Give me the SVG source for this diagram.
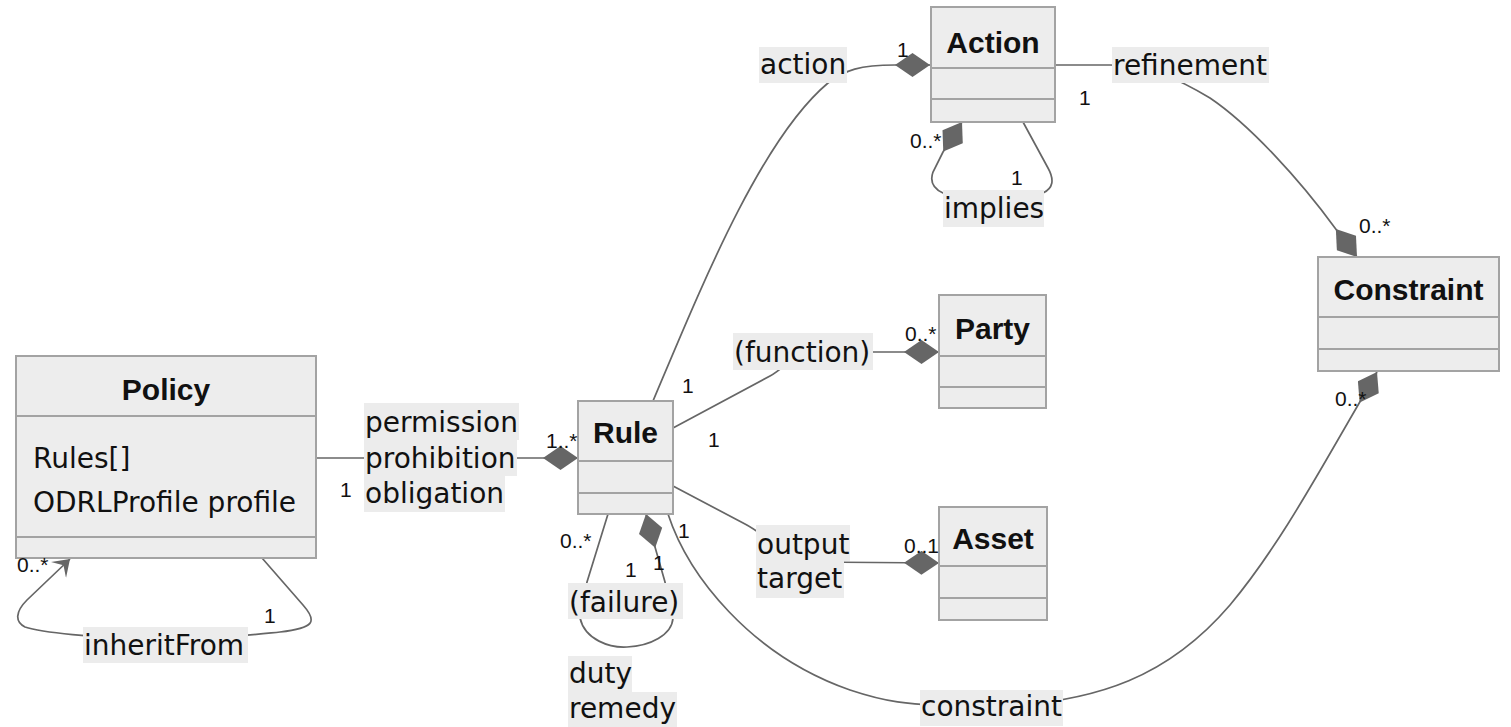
<svg xmlns="http://www.w3.org/2000/svg" width="1511" height="727" viewBox="0 0 1511 727">
  <style>
    .box { fill: #ededed; stroke: #a3a3a3; stroke-width: 2; }
    .div { stroke: #a3a3a3; stroke-width: 2; }
    .title { font-family: "Liberation Sans", Arial, sans-serif; font-weight: bold; font-size: 30px; fill: #111; text-anchor: middle; }
    .attr { font-family: "DejaVu Sans", sans-serif; font-size: 28px; fill: #111; }
    .edge { fill: none; stroke: #666; stroke-width: 1.7; }
    .lbg { fill: #ececec; }
    .lbl { font-family: "DejaVu Sans", sans-serif; font-size: 28px; fill: #111; }
    .mult { font-family: "Liberation Sans", Arial, sans-serif; font-size: 21px; fill: #111; }
  </style>
  <defs>
    <!-- filled composition diamond, tip at the path end -->
    <marker id="composition" markerUnits="userSpaceOnUse" markerWidth="36" markerHeight="26" refX="35" refY="12" orient="auto">
      <path d="M0,12 L17.5,0 L35,12 L17.5,24 Z" fill="#666"/>
    </marker>
    <!-- notched dependency arrowhead -->
    <marker id="dependency" markerUnits="userSpaceOnUse" markerWidth="18" markerHeight="24" refX="16" refY="11" orient="auto">
      <path d="M16,11 L0,0 L7,11 L0,22 Z" fill="#666"/>
    </marker>
  </defs>

  <rect width="1511" height="727" fill="#fff"/>

  <g id="connectors">
    <!-- Policy to Rule -->
    <path class="edge" d="M316,458 L578,458" marker-end="url(#composition)"/>
    <!-- Policy inheritFrom loop -->
    <path class="edge" d="M262,558 L303,605 C318,622 314,628 280,632 C260,634 250,636 166,640 C90,638 40,632 25,627 C15,622 15,612 27,600 L70,559" marker-end="url(#dependency)"/>
    <!-- Rule to Action -->
    <path class="edge" d="M653,401 C700,290 760,140 828,83 C845,70 860,65 895,65 L930,65" marker-end="url(#composition)"/>
    <!-- Action refinement to Constraint -->
    <path class="edge" d="M1055,65 L1110,65 C1150,65 1180,80 1210,98 C1250,125 1300,180 1335,228 L1357,257" marker-end="url(#composition)"/>
    <!-- Action implies loop -->
    <path class="edge" d="M1023,122 L1048,168 Q1058,186 1043,193 L993,205 L943,193 Q928,186 933,172 L943,152 L962,122" marker-end="url(#composition)"/>
    <!-- Rule to Party -->
    <path class="edge" d="M673,428 L770,376 C785,368 795,352 810,352 L939,352" marker-end="url(#composition)"/>
    <!-- Rule to Asset -->
    <path class="edge" d="M673,486 L745,524 C770,537 790,562 810,562 L939,563" marker-end="url(#composition)"/>
    <!-- Rule constraint to Constraint -->
    <path class="edge" d="M668,514 C688,575 750,655 850,690 C880,700 900,706 990,707 C1100,703 1170,675 1230,605 C1280,545 1320,470 1361,400 L1377,372" marker-end="url(#composition)"/>
    <!-- Rule failure loop -->
    <path class="edge" d="M608,514 L587,582 L582,605 L580,618 C585,640 610,648 627,647 C650,646 672,635 673,618 L668,600 L665,582 L655,547 L646,514" marker-end="url(#composition)"/>
  </g>

  <g id="node-policy">
    <rect class="box" x="16" y="356" width="300" height="202"/>
    <line class="div" x1="16" y1="416" x2="316" y2="416"/>
    <line class="div" x1="16" y1="537" x2="316" y2="537"/>
    <text class="title" x="166" y="400">Policy</text>
    <text class="attr" x="33" y="468">Rules[]</text>
    <text class="attr" x="33" y="512">ODRLProfile profile</text>
  </g>

  <g id="node-rule">
    <rect class="box" x="578" y="401" width="95" height="113"/>
    <line class="div" x1="578" y1="461" x2="673" y2="461"/>
    <line class="div" x1="578" y1="493" x2="673" y2="493"/>
    <text class="title" x="625.5" y="443">Rule</text>
  </g>

  <g id="node-action">
    <rect class="box" x="931" y="7" width="124" height="115"/>
    <line class="div" x1="931" y1="68" x2="1055" y2="68"/>
    <line class="div" x1="931" y1="99" x2="1055" y2="99"/>
    <text class="title" x="993" y="53">Action</text>
  </g>

  <g id="node-party">
    <rect class="box" x="939" y="295" width="107" height="113"/>
    <line class="div" x1="939" y1="356" x2="1046" y2="356"/>
    <line class="div" x1="939" y1="387" x2="1046" y2="387"/>
    <text class="title" x="992.5" y="339">Party</text>
  </g>

  <g id="node-asset">
    <rect class="box" x="939" y="507" width="108" height="113"/>
    <line class="div" x1="939" y1="566" x2="1047" y2="566"/>
    <line class="div" x1="939" y1="598" x2="1047" y2="598"/>
    <text class="title" x="993" y="549">Asset</text>
  </g>

  <g id="node-constraint">
    <rect class="box" x="1318" y="257" width="181" height="114"/>
    <line class="div" x1="1318" y1="317" x2="1499" y2="317"/>
    <line class="div" x1="1318" y1="349" x2="1499" y2="349"/>
    <text class="title" x="1408.5" y="300">Constraint</text>
  </g>

  <g id="edge-labels">
    <rect class="lbg" x="364" y="403" width="155" height="37"/>
    <rect class="lbg" x="364" y="440" width="153" height="36"/>
    <rect class="lbg" x="364" y="476" width="141" height="36"/>
    <text class="lbl" x="365" y="432">permission</text>
    <text class="lbl" x="365" y="468">prohibition</text>
    <text class="lbl" x="365" y="503">obligation</text>

    <rect class="lbg" x="83" y="627" width="165" height="36"/>
    <text class="lbl" x="84" y="655">inheritFrom</text>

    <rect class="lbg" x="759" y="47" width="88" height="36"/>
    <text class="lbl" x="760" y="74">action</text>

    <rect class="lbg" x="1112" y="47" width="157" height="36"/>
    <text class="lbl" x="1113" y="75">refinement</text>

    <rect class="lbg" x="943" y="190" width="101" height="37"/>
    <text class="lbl" x="944" y="218">implies</text>

    <rect class="lbg" x="733" y="333" width="140" height="37"/>
    <text class="lbl" x="734" y="362">(function)</text>

    <rect class="lbg" x="756" y="525" width="94" height="36"/>
    <rect class="lbg" x="756" y="561" width="88" height="37"/>
    <text class="lbl" x="757" y="554">output</text>
    <text class="lbl" x="757" y="588">target</text>

    <rect class="lbg" x="568" y="583" width="115" height="36"/>
    <text class="lbl" x="569" y="612">(failure)</text>

    <rect class="lbg" x="568" y="656" width="64" height="36"/>
    <rect class="lbg" x="568" y="692" width="109" height="36"/>
    <text class="lbl" x="569" y="683">duty</text>
    <text class="lbl" x="569" y="718">remedy</text>

    <rect class="lbg" x="920" y="690" width="143" height="36"/>
    <text class="lbl" x="921" y="716">constraint</text>
  </g>

  <g id="multiplicities">
    <text class="mult" x="340" y="497">1</text>
    <text class="mult" x="546" y="448">1..*</text>
    <text class="mult" x="17" y="572">0..*</text>
    <text class="mult" x="264" y="623">1</text>
    <text class="mult" x="897" y="57">1</text>
    <text class="mult" x="1079" y="105">1</text>
    <text class="mult" x="1359" y="233">0..*</text>
    <text class="mult" x="910" y="148">0..*</text>
    <text class="mult" x="1011" y="185">1</text>
    <text class="mult" x="682" y="393">1</text>
    <text class="mult" x="708" y="447">1</text>
    <text class="mult" x="905" y="341">0..*</text>
    <text class="mult" x="904" y="553">0..1</text>
    <text class="mult" x="678" y="538">1</text>
    <text class="mult" x="1335" y="406">0..*</text>
    <text class="mult" x="560" y="548">0..*</text>
    <text class="mult" x="625" y="577">1</text>
    <text class="mult" x="653" y="570">1</text>
  </g>
</svg>
